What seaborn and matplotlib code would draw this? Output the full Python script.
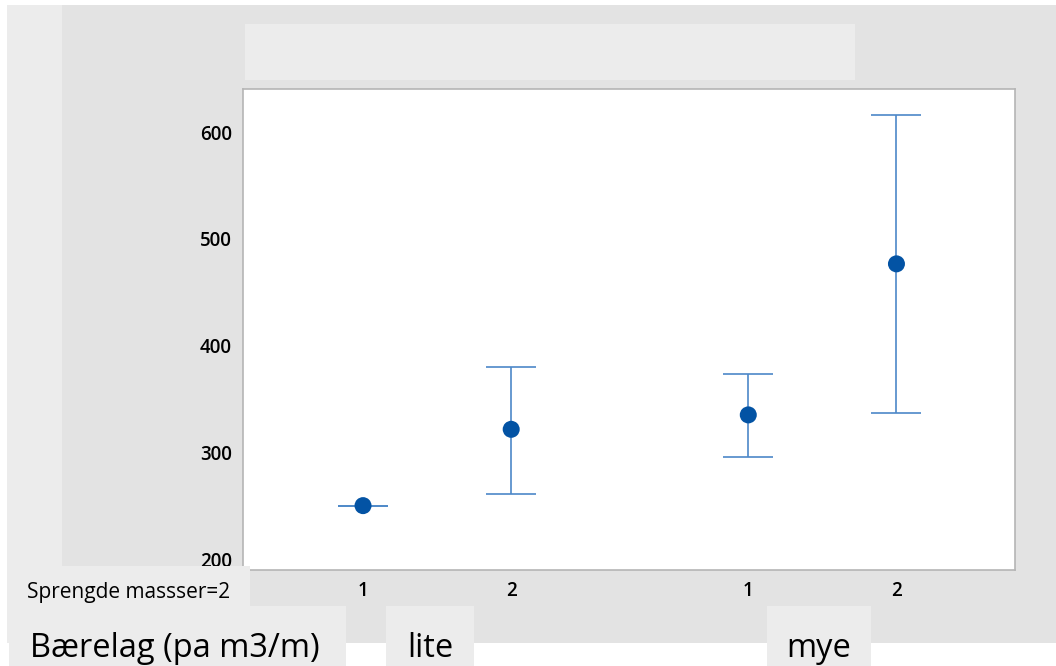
import matplotlib
matplotlib.use('Agg')
import matplotlib.pyplot as plt
from matplotlib.patches import Rectangle
import seaborn as sns
import numpy as np

# interval plot data (mean with interval), two groups x two levels
groups = ['lite', 'mye']
levels = ['1', '2']
means = [250, 321.5, 335, 476.5]
lower = [250, 261, 295.5, 336.5]
upper = [250, 380, 373.5, 616]

W, H = 1056, 666
GRAY = '#e3e3e3'
LIGHT = '#ececec'
POINT = '#0353a4'
BAR = '#4d88c8'


def box(fig, x0, y0, x1, y1, color, z):
    ''' rectangle given in pixel coords from top-left'''
    r = Rectangle((x0 / W, 1 - y1 / H), (x1 - x0) / W, (y1 - y0) / H,
                  transform=fig.transFigure, facecolor=color,
                  edgecolor='none', zorder=z)
    fig.add_artist(r)


def main():
    sns.set_style('white')
    plt.rcParams['font.family'] = ['Open Sans', 'DejaVu Sans']
    plt.rcParams['text.color'] = 'black'

    fig = plt.figure(figsize=(W / 100, H / 100), dpi=100)
    fig.patch.set_facecolor('white')

    # background panels
    box(fig, 62, 5, W, 643, GRAY, -5)
    box(fig, 7, 5, 62, 643, LIGHT, -4)
    box(fig, 245, 24, 855, 80, LIGHT, -4)

    ax = fig.add_axes([243 / W, 1 - 570 / H, (1015 - 243) / W, (570 - 89) / H])
    ax.set_facecolor('white')

    # positions: level index plus a gap between groups
    gap = 1.6
    x = []
    for gi in range(len(groups)):
        for li in range(len(levels)):
            x.append(gi * (len(levels) - 1 + gap) + li)
    x = np.array(x, dtype=float)
    m = np.array(means)
    err = [m - np.array(lower), np.array(upper) - m]

    ax.errorbar(x, m, yerr=err, fmt='none', ecolor=BAR, elinewidth=1.2,
                capsize=18, capthick=1.2, zorder=2)
    sns.scatterplot(x=x, y=m, ax=ax, color=POINT, s=150, edgecolor='none',
                    zorder=3, legend=False)

    ax.set_xlim(x[0] - 0.81, x[-1] + 0.80)
    ax.set_ylim(189.7, 640.3)
    ax.set_xticks(x)
    ax.set_xticklabels(levels * len(groups))
    ax.set_yticks([200, 300, 400, 500, 600])
    ax.tick_params(axis='both', length=5, width=1, color='#b5b5b5',
                   labelsize=13.5, pad=3, labelcolor='black')
    for lab in ax.get_xticklabels() + ax.get_yticklabels():
        lab.set_fontweight('semibold')
    for sp in ax.spines.values():
        sp.set_color('#b5b5b5')
        sp.set_linewidth(1.2)
    ax.set_xlabel('')
    ax.set_ylabel('')

    # panel labels below the axis
    box(fig, 7, 566, 250, 606, LIGHT, 2)
    box(fig, 9, 606, 346, 666, LIGHT, 2)
    gx = [(386, 474), (767, 871)]
    for (a, b) in gx:
        box(fig, a, 606, b, 666, LIGHT, 2)

    fig.text(27 / W, 1 - 598 / H, 'Sprengde massser=2', fontsize=15,
             va='baseline', ha='left', zorder=3)
    fig.text(30 / W, 1 - 657 / H, 'Bærelag (pa m3/m)', fontsize=23.5,
             va='baseline', ha='left', zorder=3)
    for g, (a, b) in zip(groups, gx):
        fig.text((a + b) / 2 / W, 1 - 657 / H, g, fontsize=23.5,
                 va='baseline', ha='center', zorder=3)

    fig.savefig('out.png', dpi=100, facecolor='white')


if __name__ == '__main__':
    main()
